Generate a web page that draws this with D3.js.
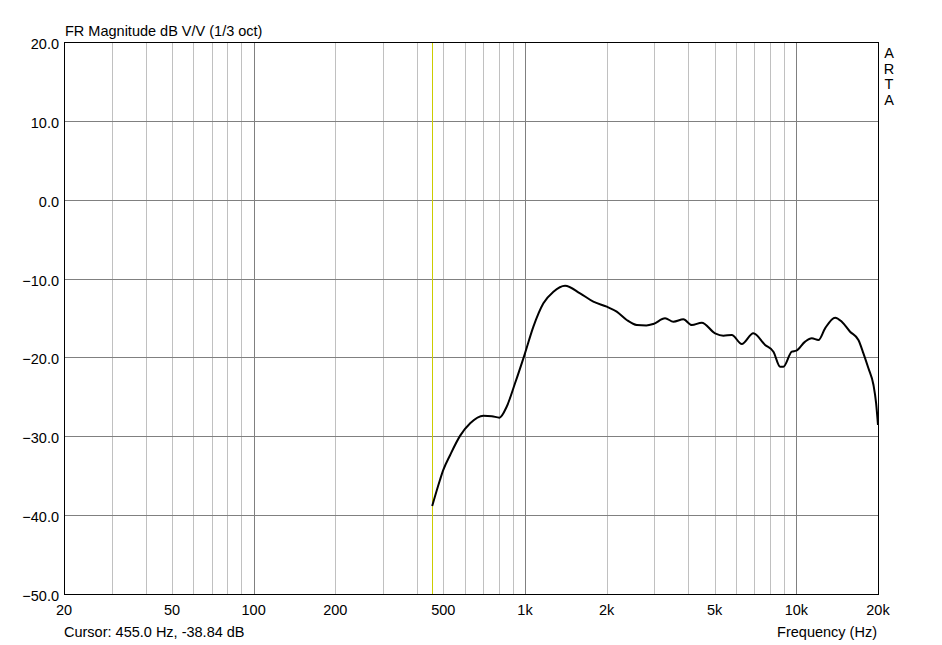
<!DOCTYPE html>
<html>
<head>
<meta charset="utf-8">
<script src="https://cdn.jsdelivr.net/npm/d3@7"></script>
<style>
  body { margin: 0; background: #fff; }
  svg text { font-family: "Liberation Sans", Arial, sans-serif; font-size: 14.5px; fill: #000; }
</style>
</head>
<body>
<svg id="chart"></svg>
<script>
var options = {
    width: 942,
    height: 645,
    left: 64,
    right: 878,
    top: 42,
    bottom: 594
};

// frequency response (Hz, dB)
var freqHz = [455, 486, 500, 530, 577, 628, 703, 755, 805, 856, 919, 1000, 1074, 1169, 1273, 1405,
    1596, 1786, 2001, 2178, 2371, 2583, 2800, 2972, 3283, 3524, 3835, 4119, 4482, 5019, 5385,
    5783, 6295, 6945, 7672, 8234, 8713, 8960, 9624, 10000, 10776, 11403, 12064, 12766, 13901,
    14709, 15781, 16937, 17672, 18440, 19248, 19685, 20000];
var magDb = [-38.84, -35.54, -34.27, -32.37, -29.92, -28.35, -27.39, -27.45, -27.64, -26.25, -23.28,
    -19.48, -16.1, -13.14, -11.66, -10.9, -11.87, -12.93, -13.56, -14.2, -15.25, -15.89, -15.95,
    -15.76, -15.04, -15.47, -15.17, -15.89, -15.6, -16.94, -17.24, -17.15, -18.3, -16.94, -18.42,
    -19.27, -21.17, -21.17, -19.27, -19.14, -18.0, -17.57, -17.79, -16.31, -14.96, -15.47, -16.74,
    -17.79, -19.48, -21.38, -23.5, -25.82, -28.57];

var xTickValues = [20, 50, 100, 200, 500, 1000, 2000, 5000, 10000, 20000];
var xTickLabels = ["20", "50", "100", "200", "500", "1k", "2k", "5k", "10k", "20k"];
var yTickValues = [20, 10, 0, -10, -20, -30, -40, -50];
var majorFreqs = [100, 1000, 10000];
var minorFreqs = [30, 40, 50, 60, 70, 80, 90, 200, 300, 400, 500, 600, 700, 800, 900,
    2000, 3000, 4000, 5000, 6000, 7000, 8000, 9000];
var cursorHz = 455.0;
var cursorDb = -38.84;

var xScale = d3.scaleLog().domain([20, 20000]).range([options.left, options.right]);
var yScale = d3.scaleLinear().domain([-50, 20]).range([options.bottom, options.top]);

function px(v) { return Math.round(v) + 0.5; }

var svg = d3.select('#chart')
    .attr('width', options.width)
    .attr('height', options.height);

// grid
var grid = svg.append('g').attr('class', 'grid');
grid.selectAll('.minor')
    .data(minorFreqs)
    .enter().append('line')
    .attr('class', 'minor')
    .attr('x1', d => px(xScale(d))).attr('x2', d => px(xScale(d)))
    .attr('y1', options.top).attr('y2', options.bottom)
    .style('stroke', '#c0c0c0');
grid.selectAll('.major')
    .data(majorFreqs)
    .enter().append('line')
    .attr('class', 'major')
    .attr('x1', d => px(xScale(d))).attr('x2', d => px(xScale(d)))
    .attr('y1', options.top).attr('y2', options.bottom)
    .style('stroke', '#808080');
grid.selectAll('.hline')
    .data(yTickValues.slice(1, -1))
    .enter().append('line')
    .attr('class', 'hline')
    .attr('x1', options.left).attr('x2', options.right)
    .attr('y1', d => px(yScale(d))).attr('y2', d => px(yScale(d)))
    .style('stroke', '#808080');

// cursor
svg.append('line')
    .attr('x1', px(xScale(cursorHz))).attr('x2', px(xScale(cursorHz)))
    .attr('y1', options.top).attr('y2', options.bottom)
    .style('stroke', '#cccc00');

// frame
svg.append('rect')
    .attr('x', options.left + 0.5).attr('y', options.top + 0.5)
    .attr('width', options.right - options.left)
    .attr('height', options.bottom - options.top)
    .style('fill', 'none').style('stroke', '#000');

// curve
var points = freqHz.map((f, i) => ({f: f, db: magDb[i]}));
var line = d3.line()
    .x(d => xScale(d.f))
    .y(d => yScale(d.db))
    .curve(d3.curveMonotoneX);
svg.append('path')
    .datum(points)
    .attr('d', line)
    .style('fill', 'none')
    .style('stroke', '#000')
    .style('stroke-width', 2)
    .style('stroke-linejoin', 'round');

// y labels
svg.selectAll('.ylab')
    .data(yTickValues)
    .enter().append('text')
    .attr('class', 'ylab')
    .attr('x', options.left - 5)
    .attr('y', d => yScale(d) + 7)
    .style('text-anchor', 'end')
    .text(d => d3.format('.1f')(d));

// x labels
svg.selectAll('.xlab')
    .data(xTickValues)
    .enter().append('text')
    .attr('class', 'xlab')
    .attr('x', d => xScale(d))
    .attr('y', 615)
    .style('text-anchor', 'middle')
    .text((d, i) => xTickLabels[i]);

svg.append('text')
    .attr('x', options.left + 1).attr('y', 36)
    .text('FR Magnitude dB V/V (1/3 oct)');

svg.append('text')
    .attr('x', options.left).attr('y', 637)
    .text('Cursor: ' + cursorHz.toFixed(1) + ' Hz, ' + cursorDb.toFixed(2) + ' dB');

svg.append('text')
    .attr('x', options.right - 1).attr('y', 637)
    .style('text-anchor', 'end')
    .text('Frequency (Hz)');

svg.selectAll('.arta')
    .data(['A', 'R', 'T', 'A'])
    .enter().append('text')
    .attr('class', 'arta')
    .attr('x', 889).attr('y', (d, i) => 58 + i * 15.5)
    .style('text-anchor', 'middle')
    .text(d => d);
</script>
</body>
</html>
